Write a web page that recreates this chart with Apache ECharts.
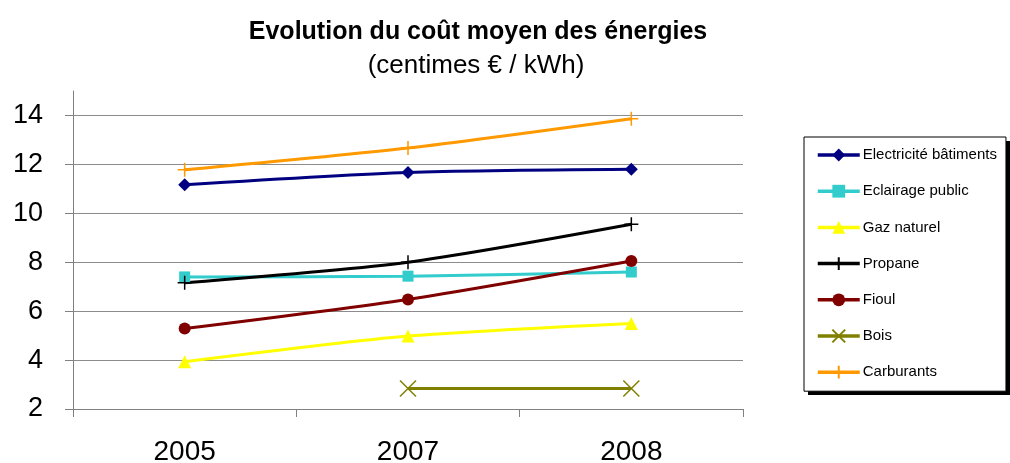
<!DOCTYPE html>
<html>
<head>
<meta charset="utf-8">
<script src="https://cdn.jsdelivr.net/npm/echarts@6/dist/echarts.min.js"></script>
<style>
html,body{margin:0;padding:0;background:#fff;}
#chart{width:1010px;height:463px;}
</style>
</head>
<body>
<div id="chart"></div>
<script>
var categories = ['2005', '2007', '2008'];
var yTicks = [2, 4, 6, 8, 10, 12, 14];
var seriesNames = ['Electricité bâtiments', 'Eclairage public', 'Gaz naturel', 'Propane', 'Fioul', 'Bois', 'Carburants'];
var electricite = [11.17, 11.67, 11.8];
var eclairage = [7.4, 7.43, 7.6];
var gaz = [3.93, 4.98, 5.5];
var propane = [7.16, 8.0, 9.55];
var fioul = [5.29, 6.48, 8.05];
var bois = [null, 2.84, 2.84];
var carburants = [11.78, 12.67, 13.87];

var colors = ['#000080', '#33CCCC', '#FFFF00', '#000000', '#800000', '#808000', '#FF9900'];
var dataList = [electricite, eclairage, gaz, propane, fioul, bois, carburants];
var PLUS = 'path://M5,0L5,10M0,5L10,5';
var CROSS = 'path://M0,0L10,10M10,0L0,10';
var symbols = ['diamond', 'rect', 'triangle', PLUS, 'circle', CROSS, PLUS];
var sizes = [13, 11, 13, 14, 12, 16, 14];
var FONT = 'Liberation Sans, Arial, sans-serif';

var series = seriesNames.map(function (name, i) {
  var isPath = symbols[i].indexOf('path://') === 0;
  return {
    name: name,
    type: 'line',
    data: dataList[i],
    smooth: 0.25,
    symbol: symbols[i],
    symbolSize: sizes[i],
    showAllSymbol: true,
    connectNulls: false,
    lineStyle: { color: colors[i], width: 3 },
    itemStyle: isPath ? { color: colors[i], borderColor: colors[i], borderWidth: 1.5 } : { color: colors[i], borderWidth: 0 },
    emphasis: { disabled: true },
    z: 3
  };
});

var chart = echarts.init(document.getElementById('chart'), null, { renderer: 'canvas' });
chart.setOption({
  animation: false,
  backgroundColor: '#ffffff',
  textStyle: { fontFamily: FONT },
  title: [
    { text: 'Evolution du coût moyen des énergies', left: 473, top: 15, textAlign: 'center',
      textStyle: { fontFamily: FONT, fontSize: 25, fontWeight: 'bold', color: '#000' } },
    { text: '(centimes € / kWh)', left: 471, top: 48, textAlign: 'center',
      textStyle: { fontFamily: FONT, fontSize: 26, fontWeight: 'normal', color: '#000' } }
  ],
  graphic: [
    { type: 'rect', left: 808, top: 141, z: 1, shape: { width: 210, height: 254 }, style: { fill: '#000000' } }
  ],
  legend: {
    orient: 'vertical',
    left: 804,
    top: 137,
    z: 4,
    padding: [10, 9, 11, 12],
    itemWidth: 42,
    itemHeight: 16,
    itemGap: 20.2,
    backgroundColor: '#ffffff',
    borderColor: '#000000',
    borderWidth: 1,
    selectedMode: false,
    lineStyle: { width: 3.5 },
    textStyle: { fontFamily: FONT, fontSize: 15, lineHeight: 16, color: '#000', padding: [0, 0, 0, -2] },
    data: seriesNames
  },
  grid: { left: 73, right: 267, top: 91, bottom: 54, containLabel: false, outerBoundsMode: 'none' },
  xAxis: {
    type: 'category',
    data: categories,
    boundaryGap: true,
    axisLine: { lineStyle: { color: '#808080', width: 1 } },
    axisTick: { show: true, alignWithLabel: false, length: 8, inside: false, lineStyle: { color: '#808080' } },
    axisLabel: { fontSize: 28, color: '#000', margin: 29, fontFamily: FONT },
    splitLine: { show: false }
  },
  yAxis: {
    type: 'value',
    min: 2,
    max: 15,
    interval: 2,
    axisLine: { show: true, lineStyle: { color: '#808080', width: 1 } },
    axisTick: { show: true, length: 8, customValues: yTicks, lineStyle: { color: '#808080' } },
    axisLabel: { fontSize: 27, color: '#000', margin: 30, customValues: yTicks, fontFamily: FONT },
    splitLine: { show: true, lineStyle: { color: ['#8c8c8c', '#8c8c8c', '#8c8c8c', '#8c8c8c', '#8c8c8c', '#8c8c8c', '#8c8c8c', 'rgba(0,0,0,0)'], width: 1 } }
  },
  series: series
});
</script>
</body>
</html>
